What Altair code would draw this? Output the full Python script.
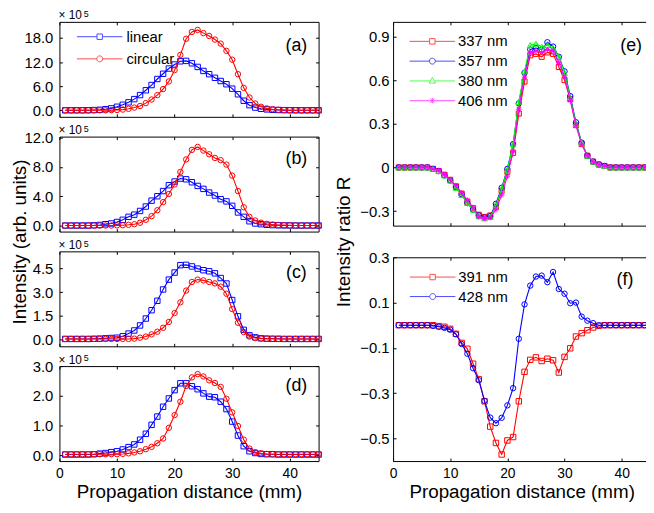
import altair as alt
import pandas as pd

FONT = "Liberation Sans"
K = "#000000"
BLUE = "#0000ff"
RED = "#ff0000"
GREEN = "#00ff00"
MAGENTA = "#ff00ff"

X = list(range(1, 46))
X_TICKS = [0, 10, 20, 30, 40]

# ---- panel (a)-(d): intensity (x 10^5) ----
a_linear = [0.02, 0.02, 0.02, 0.02, 0.04, 0.08, 0.15, 0.3, 0.5, 0.9,
            1.4, 2.0, 2.8, 3.8, 5.0, 6.3, 7.8, 9.1, 10.4, 11.4,
            12.2, 12.3, 11.7, 10.8, 9.8, 9.0, 8.1, 7.3, 6.5, 5.4,
            4.0, 2.4, 1.3, 0.7, 0.4, 0.25, 0.15, 0.1, 0.06, 0.04,
            0.03, 0.02, 0.02, 0.02, 0.02]
a_circular = [0.02, 0.02, 0.02, 0.02, 0.02, 0.02, 0.02, 0.04, 0.06, 0.1,
              0.2, 0.4, 0.7, 1.1, 1.8, 2.7, 3.8, 5.3, 7.2, 10.0,
              13.8, 17.8, 19.5, 20.0, 19.2, 18.5, 17.6, 16.6, 14.8, 12.6,
              9.0, 5.6, 3.2, 1.7, 0.9, 0.5, 0.3, 0.15, 0.08, 0.05,
              0.04, 0.03, 0.02, 0.02, 0.02]
b_linear = [0.02, 0.02, 0.02, 0.02, 0.02, 0.05, 0.1, 0.2, 0.3, 0.5,
            0.8, 1.2, 1.5, 2.0, 2.6, 3.4, 4.0, 4.7, 5.5, 6.0,
            6.4, 6.3, 5.9, 5.4, 5.0, 4.5, 4.1, 3.6, 3.3, 2.7,
            1.8, 1.2, 0.6, 0.3, 0.2, 0.12, 0.08, 0.05, 0.04, 0.03,
            0.02, 0.02, 0.02, 0.02, 0.02]
b_circular = [0.02, 0.02, 0.02, 0.02, 0.02, 0.02, 0.02, 0.02, 0.02, 0.04,
              0.06, 0.12, 0.2, 0.4, 0.8, 1.3, 2.1, 3.2, 4.3, 5.6,
              7.3, 9.0, 10.3, 10.7, 10.2, 9.7, 9.2, 8.9, 8.3, 6.8,
              4.7, 2.5, 1.2, 0.7, 0.4, 0.25, 0.15, 0.1, 0.06, 0.04,
              0.03, 0.02, 0.02, 0.02, 0.02]
c_linear = [0.02, 0.02, 0.02, 0.02, 0.02, 0.03, 0.04, 0.06, 0.08, 0.1,
            0.19, 0.36, 0.56, 0.88, 1.32, 1.85, 2.45, 3.17, 3.8, 4.25,
            4.72, 4.74, 4.64, 4.5, 4.4, 4.33, 4.2, 3.9, 3.55, 2.5,
            1.46, 0.6, 0.25, 0.12, 0.06, 0.04, 0.03, 0.03, 0.02, 0.02,
            0.02, 0.02, 0.02, 0.02, 0.02]
c_circular = [0.02, 0.02, 0.02, 0.02, 0.02, 0.02, 0.02, 0.02, 0.02, 0.02,
              0.02, 0.02, 0.04, 0.1, 0.17, 0.31, 0.48, 0.73, 1.1, 1.67,
              2.35, 3.1, 3.65, 3.8, 3.75, 3.65, 3.56, 3.35, 2.9, 1.92,
              1.05, 0.46, 0.17, 0.08, 0.04, 0.03, 0.03, 0.02, 0.02, 0.02,
              0.02, 0.02, 0.02, 0.02, 0.02]
d_linear = [0.02, 0.02, 0.02, 0.02, 0.02, 0.03, 0.05, 0.07, 0.1, 0.13,
            0.19, 0.27, 0.36, 0.52, 0.72, 1.02, 1.3, 1.63, 1.91, 2.19,
            2.42, 2.42, 2.32, 2.22, 2.08, 1.97, 1.95, 1.8, 1.55, 1.13,
            0.66, 0.3, 0.13, 0.07, 0.04, 0.03, 0.03, 0.02, 0.02, 0.02,
            0.02, 0.02, 0.02, 0.02, 0.02]
d_circular = [0.03, 0.03, 0.03, 0.03, 0.03, 0.03, 0.03, 0.03, 0.03, 0.03,
              0.04, 0.06, 0.09, 0.13, 0.2, 0.28, 0.4, 0.56, 0.92, 1.35,
              1.8, 2.33, 2.62, 2.73, 2.65, 2.52, 2.43, 2.3, 1.9, 1.44,
              0.98, 0.52, 0.22, 0.1, 0.06, 0.04, 0.03, 0.03, 0.03, 0.03,
              0.03, 0.03, 0.03, 0.03, 0.03]

# ---- panel (e): intensity ratio R ----
e_337 = [0, 0, 0, 0, 0, 0, -0.01, -0.025, -0.05, -0.085,
         -0.13, -0.18, -0.235, -0.28, -0.325, -0.34, -0.33, -0.27, -0.16, -0.03,
         0.10, 0.37, 0.59, 0.77, 0.78, 0.76, 0.79, 0.78, 0.69, 0.60,
         0.47, 0.29, 0.16, 0.08, 0.04, 0.02, 0.01, 0, 0, 0,
         0, 0, 0, 0, 0]
e_357 = [0, 0, 0, 0, 0, 0, -0.01, -0.025, -0.055, -0.09,
         -0.135, -0.185, -0.245, -0.29, -0.33, -0.345, -0.335, -0.25, -0.14, -0.01,
         0.16, 0.44, 0.65, 0.81, 0.82, 0.81, 0.86, 0.83, 0.76, 0.66,
         0.49, 0.31, 0.17, 0.08, 0.04, 0.02, 0.01, 0, 0, 0,
         0, 0, 0, 0, 0]
e_380 = [0, 0, 0, 0, 0, 0, -0.01, -0.025, -0.055, -0.09,
         -0.14, -0.19, -0.245, -0.29, -0.335, -0.35, -0.34, -0.26, -0.15, -0.015,
         0.16, 0.45, 0.66, 0.84, 0.85, 0.83, 0.84, 0.82, 0.76, 0.65,
         0.48, 0.30, 0.17, 0.08, 0.04, 0.02, 0.01, 0, 0, 0,
         0, 0, 0, 0, 0]
e_406 = [0, 0, 0, 0, 0, 0, -0.01, -0.02, -0.05, -0.085,
         -0.125, -0.175, -0.225, -0.275, -0.34, -0.35, -0.345, -0.29, -0.19, -0.06,
         0.11, 0.40, 0.62, 0.79, 0.80, 0.79, 0.81, 0.80, 0.72, 0.62,
         0.46, 0.29, 0.16, 0.08, 0.04, 0.02, 0.01, 0, 0, 0,
         0, 0, 0, 0, 0]

# ---- panel (f) ----
f_391 = [0, 0, 0, 0, 0, 0, 0, -0.004, -0.007, -0.016,
         -0.038, -0.078, -0.104, -0.17, -0.238, -0.336, -0.448, -0.52, -0.571, -0.509,
         -0.494, -0.336, -0.206, -0.153, -0.142, -0.158, -0.148, -0.155, -0.209, -0.14,
         -0.102, -0.05, -0.035, -0.022, -0.01, -0.003, 0, 0, 0, 0,
         0, 0, 0, 0, 0]
f_428 = [0, 0, 0, 0, 0, 0, -0.003, -0.007, -0.012, -0.02,
         -0.04, -0.083, -0.126, -0.19, -0.243, -0.334, -0.408, -0.433, -0.409, -0.354,
         -0.278, -0.06, 0.092, 0.175, 0.215, 0.219, 0.19, 0.235, 0.16, 0.139,
         0.097, 0.1, 0.038, 0.02, 0.009, 0, 0, 0, 0, 0,
         0, 0, 0, 0, 0]

AD_NAMES = ["linear", "circular"]
E_NAMES = ["337 nm", "357 nm", "380 nm", "406 nm"]
F_NAMES = ["391 nm", "428 nm"]

AST = "M-1,0L1,0M0,-1L0,1M-0.7,-0.7L0.7,0.7M-0.7,0.7L0.7,-0.7"
LEG_SQ = "M-8.4,0L-1,0M1,0L8.4,0M-1,-1L1,-1L1,1L-1,1Z"
LEG_CI = "M-8.4,0L-1.1,0M1.1,0L8.4,0M1.1,0A1.1,1.1,0,1,1,-1.1,0A1.1,1.1,0,1,1,1.1,0Z"
LEG_TR = "M-8.4,0L-0.75,0M0.75,0L8.4,0M0,-1.3L1.2,0.8L-1.2,0.8Z"
LEG_AST = "M-8.4,0L8.4,0M0,-1L0,1M-0.75,-0.75L0.75,0.75M-0.75,0.75L0.75,-0.75"

FMT1 = "format(datum.value, '.1f')"
FMT_E = "datum.value == 0 ? '0' : format(datum.value, '.1f')"


def frame(names, series):
    rows = []
    for n, vals in zip(names, series):
        for xv, yv in zip(X, vals):
            rows.append({"x": xv, "v": yv, "s": n})
    return pd.DataFrame(rows)


def axis(orient, values, labels, expr=None, pad=4, title=None, tx=None, ty=None, lsize=15):
    kw = dict(orient=orient, values=values, labels=labels, tickSize=3, offset=-3,
              domain=False, grid=False, tickColor=K, tickWidth=1,
              labelFont=FONT, labelFontSize=lsize, labelColor=K, labelPadding=pad,
              labelFlush=False)
    if expr:
        kw["labelExpr"] = expr
    if title:
        kw.update(title=title, titleFont=FONT, titleFontSize=19, titleFontWeight="normal",
                  titleColor=K, titleBaseline="alphabetic")
        if tx is not None:
            kw["titleX"] = tx
        if ty is not None:
            kw["titleY"] = ty
        if orient == "left":
            kw["titleAngle"] = 270
    else:
        kw["title"] = None
    return alt.Axis(**kw)


def text_layer(txt, x, y, size, align="center", baseline="middle"):
    return alt.Chart(pd.DataFrame({"t": [txt]})).mark_text(
        font=FONT, fontSize=size, color=K, align=align, baseline=baseline
    ).encode(x=alt.value(x), y=alt.value(y), text="t:N")


def panel(names, series, colors, shapes, sizes, ydom, yvals, yexpr, ypad, w, h,
          label, lab_x, lab_y, xlabels=False, xtitle=None, ytitle=None, ytx=None,
          yty=None, legend=None, exponent=False):
    df = frame(names, series)
    xs = alt.Scale(domain=[0, 45], nice=False, zero=False)
    ys = alt.Scale(domain=ydom, nice=False, zero=False)
    layers = []
    if legend is not None:
        paths, lx, ly, lo, rp = legend
        L = alt.Legend(title=None, orient="none", legendX=lx, legendY=ly, symbolSize=30,
                       symbolStrokeWidth=1, symbolFillColor="transparent",
                       labelFont=FONT, labelFontSize=15, labelColor=K,
                       labelOffset=lo, rowPadding=rp, padding=0)
        layers.append(
            alt.Chart(df).transform_filter("false").mark_point(filled=False, size=30).encode(
                stroke=alt.Stroke("s:N", scale=alt.Scale(domain=names, range=colors), legend=L),
                shape=alt.Shape("s:N", scale=alt.Scale(domain=names, range=paths), legend=L),
            )
        )
    for i, (n, c, shp, sz) in enumerate(zip(names, colors, shapes, sizes)):
        base = alt.Chart(df).transform_filter(alt.datum.s == n)
        if i == 0:
            xl = alt.X("x:Q", scale=xs, axis=axis("bottom", X_TICKS, xlabels, pad=6,
                                                  title=xtitle, ty=40.2, lsize=14))
            yl = alt.Y("v:Q", scale=ys, axis=axis("left", yvals, True, expr=yexpr, pad=ypad,
                                                  title=ytitle, tx=ytx, ty=yty))
            xp = alt.X("x:Q", scale=xs, axis=axis("top", X_TICKS, False))
            yp = alt.Y("v:Q", scale=ys, axis=axis("right", yvals, False))
        else:
            xl = xp = alt.X("x:Q", scale=xs, axis=None)
            yl = yp = alt.Y("v:Q", scale=ys, axis=None)
        layers.append(base.mark_line(color=c, strokeWidth=1.1).encode(x=xl, y=yl))
        layers.append(base.mark_point(shape=shp, filled=False, color=c, size=sz,
                                      strokeWidth=1, opacity=1).encode(x=xp, y=yp))
    layers.append(text_layer(label, lab_x, lab_y, 18))
    if exponent:
        layers.append(text_layer("× 10", -1, -2.4, 12, align="left", baseline="alphabetic"))
        layers.append(text_layer("5", 24.5, -4.8, 9, align="left", baseline="alphabetic"))
    return alt.layer(*layers).resolve_axis(x="independent", y="independent").properties(
        width=w, height=h
    )


LW, LH, LS = 262, 96, 20
RW, RH, RS = 260, 206, 32

pa = panel(AD_NAMES, [a_linear, a_circular], [BLUE, RED], ["square", "circle"], [30, 30],
           [-1.6, 22.0], [0, 6, 12, 18], FMT1, 6.7, LW, LH, "(a)", 239.5, 24,
           legend=([LEG_SQ, LEG_CI], 33.2, 7.5, 19.5, 6.4), exponent=True)
pb = panel(AD_NAMES, [b_linear, b_circular], [BLUE, RED], ["square", "circle"], [30, 30],
           [-0.8, 12.1], [0, 4, 8, 12], FMT1, 6.7, LW, LH, "(b)", 239.5, 23,
           ytitle="Intensity (arb. units)", ytx=-37.5, yty=106, exponent=True)
pc = panel(AD_NAMES, [c_linear, c_circular], [BLUE, RED], ["square", "circle"], [30, 30],
           [-0.45, 5.6], [0, 1.5, 3, 4.5], FMT1, 6.7, LW, LH, "(c)", 239.5, 21.5,
           exponent=True)
pd_ = panel(AD_NAMES, [d_linear, d_circular], [BLUE, RED], ["square", "circle"], [30, 30],
            [-0.2, 3.0], [0, 1, 2, 3], FMT1, 6.7, LW, LH, "(d)", 239.5, 20.5,
            xlabels=True, xtitle="Propagation distance (mm)", exponent=True)

pe = panel(E_NAMES, [e_337, e_357, e_380, e_406], [RED, BLUE, GREEN, MAGENTA],
           ["square", "circle", "triangle-up", AST], [26, 30, 34, 30],
           [-0.4, 1.0], [-0.3, 0, 0.3, 0.6, 0.9], FMT_E, 4, RW, RH, "(e)", 240.7, 24.5,
           ytitle="Intensity ratio R", ytx=-47.3, yty=222,
           legend=([LEG_SQ, LEG_CI, LEG_TR, LEG_AST], 32.2, 12.2, 18.5, 4))
pf = panel(F_NAMES, [f_391, f_428], [RED, BLUE], ["square", "circle"], [30, 30],
           [-0.6, 0.3], [-0.5, -0.3, -0.1, 0.1, 0.3], FMT1, 4, RW, RH, "(f)", 234.4, 23.2,
           xlabels=True, xtitle="Propagation distance (mm)",
           legend=([LEG_SQ, LEG_CI], 32.5, 12.5, 18.5, 3.7))

left = alt.vconcat(pa, pb, pc, pd_, spacing=LS, bounds="flush").resolve_scale(
    stroke="independent", shape="independent")
right = alt.vconcat(pe, pf, spacing=RS, bounds="flush").resolve_scale(
    stroke="independent", shape="independent")

chart = (
    alt.hconcat(left, right, spacing=9.3)
    .resolve_scale(stroke="independent", shape="independent")
    .properties(
        autosize=alt.AutoSizeParams(type="none"),
        padding={"left": 52, "top": 11.3, "right": 593, "bottom": 485.2},
    )
    .configure(font=FONT)
    .configure_view(stroke=K, strokeWidth=1)
)

chart.save("out.html", embed_options={"renderer": "svg", "actions": False})
